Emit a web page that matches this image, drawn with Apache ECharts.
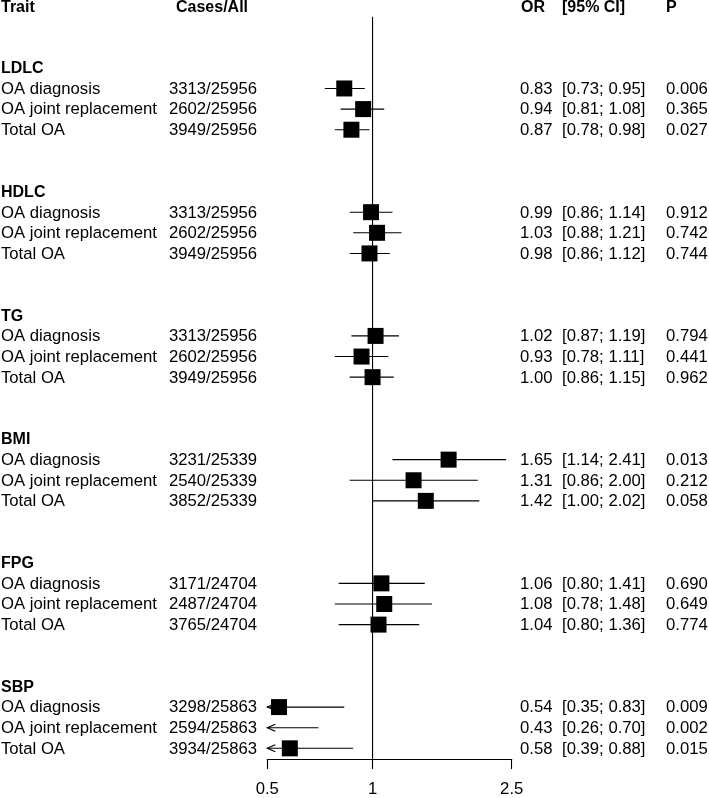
<!DOCTYPE html>
<html><head><meta charset="utf-8">
<script src="https://cdn.jsdelivr.net/npm/echarts@6/dist/echarts.min.js"></script>
<style>html,body{margin:0;padding:0;background:#fff}#chart{width:709px;height:798px}</style>
</head><body><div id="chart"></div>
<script>
// ---------- data ----------
const traits = ['LDLC', 'HDLC', 'TG', 'BMI', 'FPG', 'SBP'];
const outcomes = ['OA diagnosis', 'OA joint replacement', 'Total OA'];
const casesAll = [
  '3313/25956', '2602/25956', '3949/25956',
  '3313/25956', '2602/25956', '3949/25956',
  '3313/25956', '2602/25956', '3949/25956',
  '3231/25339', '2540/25339', '3852/25339',
  '3171/24704', '2487/24704', '3765/24704',
  '3298/25863', '2594/25863', '3934/25863'
];
const oddsRatio = [0.83, 0.94, 0.87, 0.99, 1.03, 0.98, 1.02, 0.93, 1.00, 1.65, 1.31, 1.42, 1.06, 1.08, 1.04, 0.54, 0.43, 0.58];
const ciLower   = [0.73, 0.81, 0.78, 0.86, 0.88, 0.86, 0.87, 0.78, 0.86, 1.14, 0.86, 1.00, 0.80, 0.78, 0.80, 0.35, 0.26, 0.39];
const ciUpper   = [0.95, 1.08, 0.98, 1.14, 1.21, 1.12, 1.19, 1.11, 1.15, 2.41, 2.00, 2.02, 1.41, 1.48, 1.36, 0.83, 0.70, 0.88];
const pValues   = [0.006, 0.365, 0.027, 0.912, 0.742, 0.744, 0.794, 0.441, 0.962, 0.013, 0.212, 0.058, 0.690, 0.649, 0.774, 0.009, 0.002, 0.015];
const axisTicks = [0.5, 1, 2.5];
const axisTickLabels = ['0.5', '1', '2.5'];
const columnHeaders = ['Trait', 'Cases/All', 'OR', '[95% CI]', 'P'];

// ---------- layout ----------
const FONT = '"Liberation Sans", Arial, Helvetica, sans-serif';
const FS = 16.7, FSB = 16;
const X_MIN = 0.5, X_MAX = 2.5;
const ROWS_PER_GROUP = 6;
const ROW_PX = 124 / 6;
const Y_MIN = -68 / ROW_PX;
const Y_MAX = Y_MIN + 760.7 / ROW_PX;
const HEADER_ROW = -2.93;
const REF_TOP_ROW = -2.48;
const COL = { label: 1, cases: 213, or: 520, ci: 562, p: 666 };
const HEAD_COL = { trait: 1, cases: 212, or: 521, ci: 562, p: 666 };
const BOX = 16;

const rowData = oddsRatio.map((v, k) => {
  const g = Math.floor(k / 3), i = k % 3;
  return [v, g * ROWS_PER_GROUP + i + 1, ciLower[k], ciUpper[k]];
});
const groupData = traits.map((t, g) => [1, g * ROWS_PER_GROUP]);

function txt(x, y, text, opts) {
  return {
    type: 'text', x: x, y: y,
    style: Object.assign({
      text: text, fill: '#000', fontSize: FS, fontFamily: FONT,
      align: 'left', verticalAlign: 'middle'
    }, opts || {})
  };
}

function renderRow(params, api) {
  const k = params.dataIndex;
  const or = api.value(0), row = api.value(1), lo = api.value(2), hi = api.value(3);
  const y = api.coord([1, row])[1];
  const xl = api.coord([Math.max(lo, X_MIN), row])[0];
  const xh = api.coord([Math.min(hi, X_MAX), row])[0];
  const ch = [];
  ch.push({ type: 'line', shape: { x1: xl, y1: y, x2: xh, y2: y }, style: { stroke: '#000', lineWidth: 1.1 } });
  if (lo < X_MIN) {
    ch.push({ type: 'polyline', shape: { points: [[xl + 8, y - 3.5], [xl, y], [xl + 8, y + 3.5]] },
      style: { stroke: '#000', fill: null, lineWidth: 1.1 } });
  }
  if (hi > X_MAX) {
    ch.push({ type: 'polyline', shape: { points: [[xh - 8, y - 3.5], [xh, y], [xh - 8, y + 3.5]] },
      style: { stroke: '#000', fill: null, lineWidth: 1.1 } });
  }
  if (or >= X_MIN && or <= X_MAX) {
    const xc = api.coord([or, row])[0];
    ch.push({ type: 'rect', shape: { x: xc - BOX / 2, y: y - BOX / 2, width: BOX, height: BOX }, style: { fill: '#000' } });
  }
  const ty = y + 0.8;
  ch.push(txt(COL.label, ty, outcomes[k % 3]));
  ch.push(txt(COL.cases, ty, casesAll[k], { align: 'center' }));
  ch.push(txt(COL.or, ty, oddsRatio[k].toFixed(2)));
  ch.push(txt(COL.ci, ty, '[' + ciLower[k].toFixed(2) + '; ' + ciUpper[k].toFixed(2) + ']'));
  ch.push(txt(COL.p, ty, pValues[k].toFixed(3)));
  return { type: 'group', children: ch };
}

function renderGroup(params, api) {
  const y = api.coord([1, api.value(1)])[1];
  return txt(COL.label, y + 1, traits[params.dataIndex], { fontWeight: 'bold', fontSize: FSB });
}

function renderFrame(params, api) {
  const top = api.coord([1, REF_TOP_ROW]);
  const bot = api.coord([1, Y_MAX]);
  const hy = api.coord([1, HEADER_ROW])[1];
  const b = { fontWeight: 'bold', fontSize: FSB };
  return {
    type: 'group',
    children: [
      { type: 'line', shape: { x1: top[0], y1: top[1], x2: bot[0], y2: bot[1] }, style: { stroke: '#000', lineWidth: 1.1 } },
      txt(HEAD_COL.trait, hy, columnHeaders[0], b),
      txt(HEAD_COL.cases, hy, columnHeaders[1], Object.assign({ align: 'center' }, b)),
      txt(HEAD_COL.or, hy, columnHeaders[2], b),
      txt(HEAD_COL.ci, hy, columnHeaders[3], b),
      txt(HEAD_COL.p, hy, columnHeaders[4], b)
    ]
  };
}

const chart = echarts.init(document.getElementById('chart'), null, { renderer: 'canvas' });
chart.setOption({
  animation: false,
  backgroundColor: '#fff',
  grid: { left: 267.3, right: 197.3, top: 0, bottom: 37.3, containLabel: false },
  xAxis: {
    type: 'log', min: X_MIN, max: X_MAX,
    axisLine: { show: true, onZero: false, lineStyle: { color: '#000', width: 1.1 } },
    axisTick: { show: true, length: 10, customValues: axisTicks, lineStyle: { color: '#000', width: 1.1 } },
    axisLabel: {
      show: true, customValues: axisTicks, margin: 22, color: '#000', fontSize: FS, fontFamily: FONT,
      formatter: (v) => { const i = axisTicks.findIndex(t => Math.abs(t - v) < 1e-6); return i >= 0 ? axisTickLabels[i] : ''; }
    },
    splitLine: { show: false }, minorTick: { show: false }
  },
  yAxis: { type: 'value', inverse: true, min: Y_MIN, max: Y_MAX, show: false, splitLine: { show: false } },
  series: [
    { type: 'custom', clip: false, silent: true, renderItem: renderFrame, data: [[1, 0]] },
    { type: 'custom', clip: false, silent: true, renderItem: renderGroup, data: groupData },
    { type: 'custom', clip: false, silent: true, renderItem: renderRow, data: rowData }
  ]
});
</script></body></html>
